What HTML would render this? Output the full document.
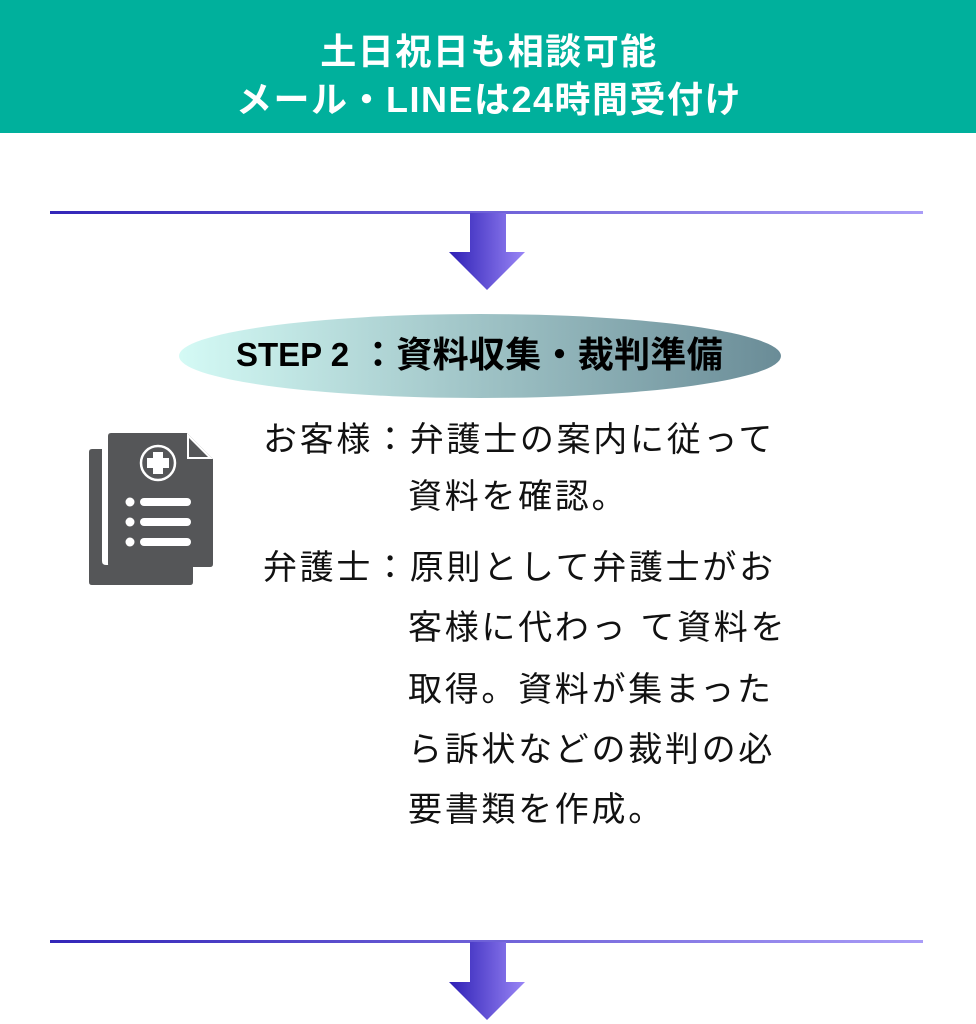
<!DOCTYPE html>
<html><head><meta charset="utf-8"><style>
body{margin:0;width:976px;height:1024px;background:#fff;position:relative;overflow:hidden;font-family:"Liberation Sans","Noto Sans CJK JP",sans-serif;}
.hdr{position:absolute;left:0;top:0;width:976px;height:133px;background:#00b09c;color:#fff;font-weight:bold;font-size:36px;letter-spacing:1.5px;text-align:center;}
.hdr div{position:absolute;left:0;width:976px;padding-left:2px;box-sizing:border-box;}
.t{position:absolute;font-size:34px;letter-spacing:2.7px;color:#111;white-space:nowrap;line-height:40px;}
</style></head><body>
<div class="hdr"><div style="top:23px">土日祝日も相談可能</div><div style="top:71px">メール・LINEは24時間受付け</div></div>
<svg width="976" height="1024" style="position:absolute;left:0;top:0">
<defs>
<linearGradient id="ln" x1="0" x2="1"><stop offset="0" stop-color="#3326b8"/><stop offset="1" stop-color="#a99cf7"/></linearGradient>
<linearGradient id="ar" x1="0" x2="1"><stop offset="0" stop-color="#2d1fb5"/><stop offset="1" stop-color="#9a86f6"/></linearGradient>
<linearGradient id="el" x1="0" x2="1"><stop offset="0" stop-color="#d4faf5"/><stop offset="1" stop-color="#6a8c97"/></linearGradient>
</defs>
<rect x="50" y="211" width="873" height="3" fill="url(#ln)"/>
<polygon points="470,213 506,213 506,252 525,252 487,290 449,252 470,252" fill="url(#ar)"/>
<ellipse cx="480" cy="356" rx="301" ry="42" fill="url(#el)"/>
<rect x="50" y="940" width="873" height="3" fill="url(#ln)"/>
<polygon points="470,942 506,942 506,982 525,982 487,1020 449,982 470,982" fill="url(#ar)"/>
<path d="M89,452 q0,-3 3,-3 h10 v112 q0,4 4,4 h87 v17 q0,3 -3,3 h-98 q-3,0 -3,-3z" fill="#555658"/>
<path d="M108,436 q0,-3 3,-3 h76 l26,26 v105 q0,3 -3,3 h-99 q-3,0 -3,-3z" fill="#555658"/>
<path d="M187,433 v26 h26z" fill="#fff"/>
<path d="M189,438 v19 h19z" fill="#555658"/>
<circle cx="158" cy="463" r="17" fill="none" stroke="#fff" stroke-width="2.5"/>
<path d="M153,452 h10 v6 h6 v10 h-6 v6 h-10 v-6 h-6 v-10 h6z" fill="#fff"/>
<g fill="#fff"><circle cx="130" cy="502" r="4.5"/><circle cx="130" cy="522" r="4.5"/><circle cx="130" cy="542" r="4.5"/>
<rect x="140" y="498" width="51" height="8" rx="4"/><rect x="140" y="518" width="51" height="8" rx="4"/><rect x="140" y="538" width="51" height="8" rx="4"/></g>
</svg>
<div class="t" style="left:236px;top:335px;font-weight:bold;font-size:33px;letter-spacing:0px;color:#000">STEP 2</div>
<div class="t" style="left:360px;top:335px;font-weight:bold;font-size:36px;letter-spacing:0.3px;color:#000">：資料収集・裁判準備</div>
<div class="t" style="left:263px;top:420px">お客様：弁護士の案内に従って</div>
<div class="t" style="left:408px;top:477px">資料を確認。</div>
<div class="t" style="left:263px;top:548px">弁護士：原則として弁護士がお</div>
<div class="t" style="left:408px;top:608px">客様に代わっ て資料を</div>
<div class="t" style="left:408px;top:670px">取得。資料が集まった</div>
<div class="t" style="left:408px;top:730px">ら訴状などの裁判の必</div>
<div class="t" style="left:408px;top:790px">要書類を作成。</div>
</body></html>
